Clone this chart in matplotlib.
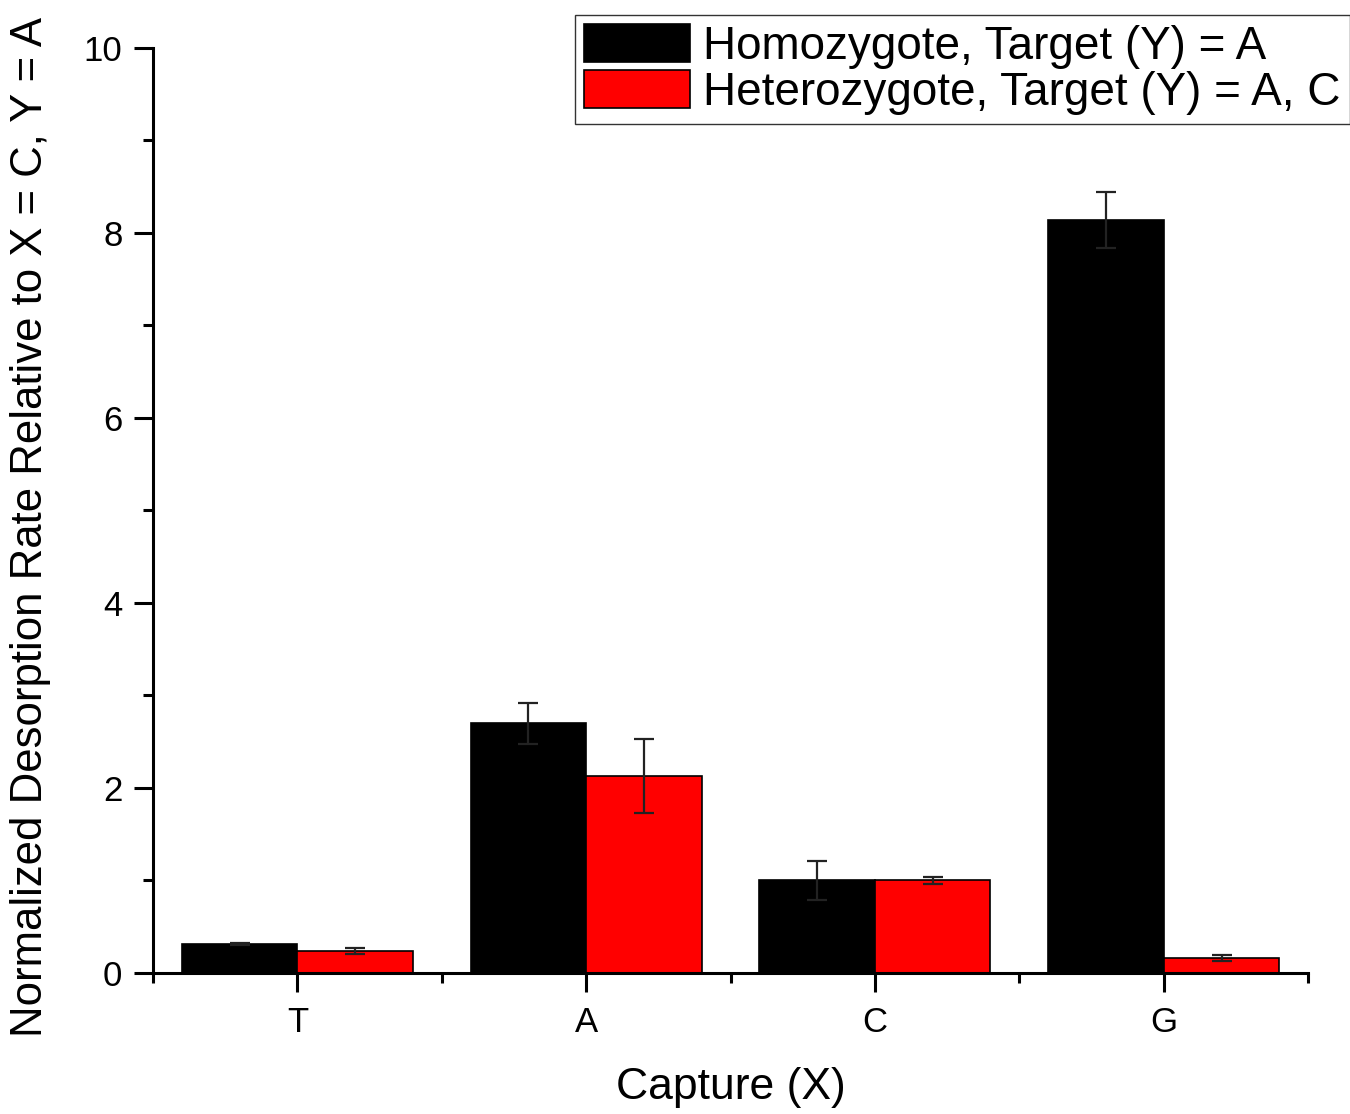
import numpy as np
import matplotlib
matplotlib.use("Agg")
import matplotlib.pyplot as plt
from matplotlib.ticker import MultipleLocator, FixedLocator

plt.rcParams['font.family'] = ['Liberation Sans', 'DejaVu Sans']

# data
captures = ['T', 'A', 'C', 'G']
homo_vals = [0.31, 2.70, 1.00, 8.14]
homo_err = [0.01, 0.22, 0.21, 0.30]
hetero_vals = [0.24, 2.13, 1.00, 0.16]
hetero_err = [0.03, 0.40, 0.04, 0.03]

x = np.arange(len(captures))
w = 0.4

fig = plt.figure(figsize=(13.5, 11.14), dpi=100)
ax = fig.add_axes([0.1133, 0.1266, 0.969 - 0.1133, 0.957 - 0.1266])

ebkw = dict(ecolor='#222222', elinewidth=1.6, capsize=7, capthick=1.6)
ax.bar(x - w / 2, homo_vals, w, color='black', edgecolor='black', linewidth=1.2,
       yerr=homo_err, error_kw=ebkw, label='Homozygote, Target (Y) = A')
ax.bar(x + w / 2, hetero_vals, w, color='#ff0000', edgecolor='black', linewidth=1.2,
       yerr=hetero_err, error_kw=ebkw, label='Heterozygote, Target (Y) = A, C')

ax.set_xlim(-0.5, 3.5)
ax.set_ylim(0, 10)
ax.set_xticks(x)
ax.set_xticklabels(captures)
ax.xaxis.set_minor_locator(FixedLocator(np.arange(-0.5, 4.0, 1.0)))
ax.yaxis.set_major_locator(MultipleLocator(2))
ax.yaxis.set_minor_locator(MultipleLocator(1))

for side in ['top', 'right']:
    ax.spines[side].set_visible(False)
for side in ['left', 'bottom']:
    ax.spines[side].set_linewidth(2.2)

ax.tick_params(which='major', direction='out', length=14, width=2.2,
               labelsize=25, pad=8)
ax.tick_params(axis='x', which='major', pad=10)
ax.tick_params(which='minor', direction='out', length=7, width=2.2)

ax.set_xlabel('Capture (X)', fontsize=32, labelpad=20)
ax.set_ylabel('Normalized Desorption Rate Relative to X = C, Y = A', fontsize=31.5)
ax.yaxis.set_label_coords(-0.088, 0.482)

leg = fig.legend(loc='upper right', bbox_to_anchor=(1.0, 0.9865), fontsize=33,
                 frameon=True, fancybox=False, handlelength=2.3, handleheight=0.9,
                 handletextpad=0.3, borderpad=0.2, labelspacing=0.03,
                 borderaxespad=0.0)
leg.get_frame().set_edgecolor('black')
leg.get_frame().set_linewidth(1.0)

fig.savefig('out.png', dpi=100)
